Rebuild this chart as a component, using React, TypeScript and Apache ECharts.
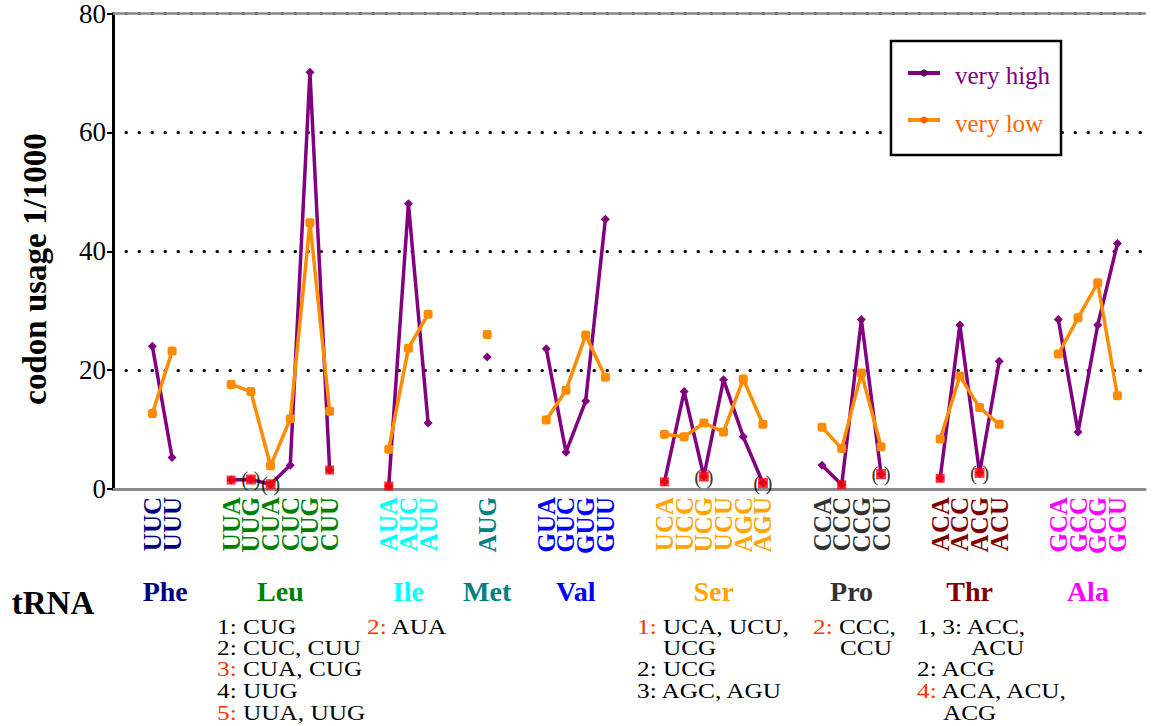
import React, { useEffect, useRef } from 'react';
import * as echarts from 'echarts';

const aminoAcids = ['Phe', 'Leu', 'Ile', 'Met', 'Val', 'Ser', 'Pro', 'Thr', 'Ala'];
const aminoColors = ['#000080', '#008000', '#00ffff', '#008080', '#0000ff', '#ffa500', '#333333', '#800000', '#ff00ff'];
const codonGroups = [
  ['UUC', 'UUU'],
  ['UUA', 'UUG', 'CUA', 'CUC', 'CUG', 'CUU'],
  ['AUA', 'AUC', 'AUU'],
  ['AUG'],
  ['GUA', 'GUC', 'GUG', 'GUU'],
  ['UCA', 'UCC', 'UCG', 'UCU', 'AGC', 'AGU'],
  ['CCA', 'CCC', 'CCG', 'CCU'],
  ['ACA', 'ACC', 'ACG', 'ACU'],
  ['GCA', 'GCC', 'GCG', 'GCU'],
];
const veryHigh = [
  [24.0, 5.3],
  [1.5, 1.6, 0.8, 4.0, 70.1, 3.2],
  [0.5, 48.0, 11.1],
  [22.2],
  [23.6, 6.2, 14.8, 45.4],
  [1.2, 16.4, 2.1, 18.4, 8.8, 1.0],
  [4.0, 0.7, 28.5, 2.5],
  [1.8, 27.6, 2.7, 21.5],
  [28.5, 9.6, 27.6, 41.3],
];
const veryLow = [
  [12.7, 23.2],
  [17.6, 16.4, 3.9, 11.8, 44.8, 13.1],
  [6.7, 23.7, 29.4],
  [26.0],
  [11.6, 16.6, 25.9, 18.8],
  [9.2, 8.8, 11.1, 9.6, 18.5, 10.9],
  [10.4, 6.8, 19.5, 7.1],
  [8.4, 19.0, 13.7, 10.9],
  [22.7, 28.8, 34.7, 15.7],
];
const redMarked = ['UUA', 'UUG', 'CUA', 'CUU', 'AUA', 'UCA', 'UCG', 'AGU', 'CCC', 'CCU', 'ACA', 'ACG'];
const bracketed = ['UUG', 'CUA', 'UCG', 'AGU', 'CCU', 'ACG'];
const yMin = 0;
const yMax = 80;
const yStep = 20;

const notes = [
  { x: 217, y: 627, text: '1: CUG' },
  { x: 217, y: 648, text: '2: CUC, CUU' },
  { x: 217, y: 669, text: '{r|3:} CUA, CUG' },
  { x: 217, y: 691, text: '4: UUG' },
  { x: 217, y: 713, text: '{r|5:} UUA, UUG' },
  { x: 367, y: 627, text: '{r|2:} AUA' },
  { x: 637, y: 627, text: '{r|1:} UCA, UCU,' },
  { x: 663, y: 648, text: 'UCG' },
  { x: 637, y: 669, text: '2: UCG' },
  { x: 637, y: 691, text: '3: AGC, AGU' },
  { x: 813, y: 627, text: '{r|2:} CCC,' },
  { x: 840, y: 648, text: 'CCU' },
  { x: 917, y: 627, text: '1, 3: ACC,' },
  { x: 971, y: 648, text: 'ACU' },
  { x: 917, y: 669, text: '2: ACG' },
  { x: 917, y: 691, text: '{r|4:} ACA, ACU,' },
  { x: 943, y: 713, text: 'ACG' },
];

const FONT = '"Liberation Serif", "Times New Roman", serif';
const GAP = 2;

const codonPos: Record<string, number> = {};
const codonGroupIdx: Record<string, number> = {};
const labelAt: Record<number, string> = {};
const groupCenters: number[] = [];
(() => {
  let cursor = 0;
  codonGroups.forEach((g, gi) => {
    const start = cursor;
    g.forEach((c) => {
      codonPos[c] = cursor;
      codonGroupIdx[c] = gi;
      labelAt[cursor] = c;
      cursor++;
    });
    groupCenters.push((start + cursor - 1) / 2);
    cursor += GAP;
  });
})();

function seriesData(values: number[][]) {
  const out: any[] = [];
  codonGroups.forEach((g, gi) => {
    g.forEach((c, ci) => out.push([codonPos[c], values[gi][ci]]));
    out.push([codonPos[g[g.length - 1]] + 1, '-']);
  });
  return out;
}

function valueOf(c: string) {
  const gi = codonGroupIdx[c];
  return veryHigh[gi][codonGroups[gi].indexOf(c)];
}

export default function App() {
  const ref = useRef<HTMLDivElement>(null);
  useEffect(() => {
    if (!ref.current) return;
    const chart = echarts.init(ref.current, undefined, { renderer: 'svg' });
    const xMin = -2;
    const xMax = 50.4;
    const option: any = {
      animation: false,
      backgroundColor: '#ffffff',
      grid: { left: 113, right: 10, top: 13, bottom: 237, containLabel: false },
      xAxis: [
        {
          type: 'value',
          min: xMin,
          max: xMax,
          interval: 1,
          position: 'bottom',
          axisLine: { show: true, onZero: false, lineStyle: { color: '#8a8a8a', width: 3 } },
          axisTick: { show: false },
          splitLine: { show: false },
          axisLabel: {
            show: true,
            rotate: 90,
            margin: 8,
            fontSize: 25,
            fontWeight: 'bold',
            fontFamily: FONT,
            showMinLabel: true,
            showMaxLabel: true,
            formatter: (v: number) => {
              const r = Math.round(v);
              return Math.abs(v - r) < 1e-6 && labelAt[r] ? labelAt[r] : '';
            },
            color: (v: any) => {
              const r = Math.round(Number(v));
              const c = labelAt[r];
              return c ? aminoColors[codonGroupIdx[c]] : '#000';
            },
          },
        },
        {
          type: 'value',
          min: xMin,
          max: xMax,
          position: 'top',
          axisLine: { show: true, onZero: false, lineStyle: { color: '#8a8a8a', width: 2.5 } },
          axisTick: { show: false },
          axisLabel: { show: false },
          splitLine: { show: false },
        },
      ],
      yAxis: {
        type: 'value',
        min: yMin,
        max: yMax,
        interval: yStep,
        axisLine: { show: true, onZero: false, lineStyle: { color: '#000', width: 3 } },
        axisTick: { show: true, length: 6, lineStyle: { color: '#000', width: 2 } },
        axisLabel: { color: '#000', fontSize: 27, fontFamily: FONT, margin: 7 },
        splitLine: {
          show: true,
          lineStyle: { color: '#000', width: 3, type: [0.5, 12.5], cap: 'round' },
        },
      },
      series: [
        {
          name: 'very high',
          type: 'line',
          data: seriesData(veryHigh),
          connectNulls: false,
          symbol: 'diamond',
          symbolSize: 9,
          showSymbol: true,
          color: '#800080',
          lineStyle: { color: '#800080', width: 3.5 },
          itemStyle: { color: '#800080' },
          z: 2,
        },
        {
          name: 'very low',
          type: 'line',
          data: seriesData(veryLow),
          connectNulls: false,
          symbol: 'roundRect',
          symbolSize: 9,
          showSymbol: true,
          color: '#ff8c00',
          lineStyle: { color: '#ff8c00', width: 3.5 },
          itemStyle: { color: '#ff8c00' },
          z: 3,
        },
        {
          name: 'marked',
          type: 'scatter',
          z: 5,
          symbol: 'rect',
          itemStyle: { color: '#ff0000' },
          data: redMarked.map((c) => {
            const br = bracketed.includes(c);
            return {
              value: [codonPos[c], valueOf(c)],
              symbolSize: br ? 10 : 9,
              label: {
                show: br,
                position: 'inside',
                formatter: '( )',
                color: '#000',
                fontSize: 21,
                lineHeight: 14,
                fontFamily: FONT,
              },
            };
          }),
        },
      ],
    };
    chart.setOption(option);

    const graphics: any[] = [];
    aminoAcids.forEach((aa, i) => {
      const px = chart.convertToPixel({ xAxisIndex: 0 }, groupCenters[i]) as number;
      graphics.push({
        type: 'text',
        x: px + (i === 0 ? 3 : 0),
        y: 591,
        z: 100,
        style: {
          text: aa,
          fill: aminoColors[i],
          fontSize: 28,
          fontWeight: 'bold',
          fontFamily: FONT,
          align: 'center',
          verticalAlign: 'middle',
        },
      });
    });
    graphics.push({
      type: 'text',
      x: 53,
      y: 603,
      z: 100,
      style: { text: 'tRNA', fill: '#000', fontSize: 33, fontWeight: 'bold', fontFamily: FONT, align: 'center', verticalAlign: 'middle' },
    });
    graphics.push({
      type: 'text',
      x: 35,
      y: 269,
      rotation: Math.PI / 2,
      z: 100,
      style: { text: 'codon usage 1/1000', fill: '#000', fontSize: 33, fontWeight: 'bold', fontFamily: FONT, align: 'center', verticalAlign: 'middle' },
    });
    notes.forEach((n) => {
      graphics.push({
        type: 'text',
        x: n.x,
        y: n.y,
        scaleX: 1.15,
        z: 100,
        style: {
          text: n.text,
          fill: '#000',
          fontSize: 22,
          lineHeight: 18,
          fontFamily: FONT,
          align: 'left',
          verticalAlign: 'middle',
          rich: { r: { fill: '#ff3300', fontSize: 22, lineHeight: 18, fontFamily: FONT } },
        },
      });
    });
    // legend
    graphics.push(
      { type: 'rect', z: 100, shape: { x: 891, y: 41, width: 170, height: 114 }, style: { fill: '#fff', stroke: '#000', lineWidth: 2.5 } },
      { type: 'line', z: 101, shape: { x1: 908, y1: 73, x2: 940, y2: 73 }, style: { stroke: '#800080', lineWidth: 4 } },
      { type: 'circle', z: 102, shape: { cx: 924, cy: 73, r: 3.5 }, style: { fill: '#5a005a' } },
      { type: 'text', z: 101, x: 955, y: 75, style: { text: 'very high', fill: '#800080', fontSize: 25, fontFamily: FONT, align: 'left', verticalAlign: 'middle' } },
      { type: 'line', z: 101, shape: { x1: 908, y1: 120, x2: 940, y2: 120 }, style: { stroke: '#ff8c00', lineWidth: 4 } },
      { type: 'circle', z: 102, shape: { cx: 924, cy: 120, r: 3.5 }, style: { fill: '#ff6000' } },
      { type: 'text', z: 101, x: 955, y: 123, style: { text: 'very low', fill: '#ff6600', fontSize: 25, fontFamily: FONT, align: 'left', verticalAlign: 'middle' } },
    );
    chart.setOption({ graphic: graphics });

    return () => chart.dispose();
  }, []);
  return <div ref={ref} style={{ position: 'absolute', left: 0, top: 0, width: 1155, height: 726 }} />;
}
